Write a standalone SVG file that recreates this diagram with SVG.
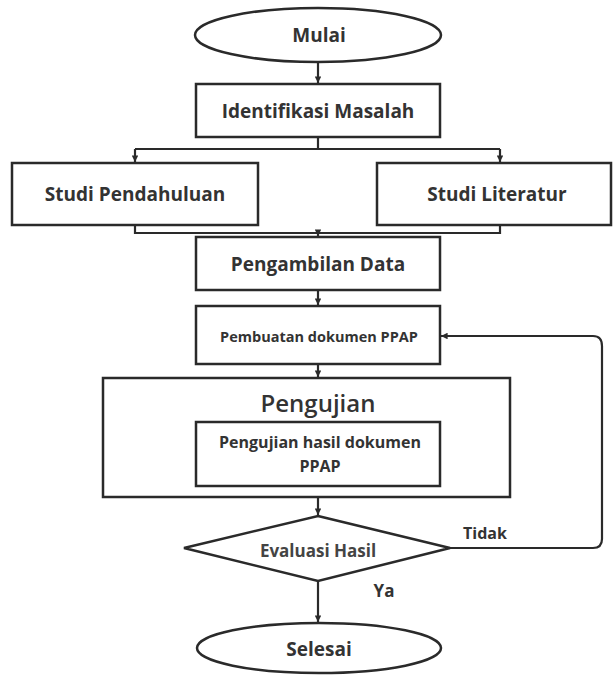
<svg xmlns="http://www.w3.org/2000/svg" width="613" height="675" viewBox="0 0 613 675">
<style>
.s{fill:#fff;stroke:#2a2a2a;stroke-width:2.5}
.t{font-family:"Open Sans","Noto Sans",sans-serif;font-weight:700;fill:#333;text-anchor:middle;dominant-baseline:central}
.c{fill:none;stroke:#2a2a2a;stroke-width:2.2}
</style>
<defs>
<marker id="a" viewBox="0 0 6 6" refX="6" refY="3" markerWidth="3" markerHeight="3" orient="auto"><path d="M0,0L6,3L0,6z" fill="#2a2a2a"/></marker>
</defs>
<rect width="613" height="675" fill="#fff"/>
<g id="connectors">
<path class="c" d="M318,62V83" marker-end="url(#a)"/>
<path class="c" d="M318,137V149M135,149H500"/>
<path class="c" d="M135,149V162" marker-end="url(#a)"/>
<path class="c" d="M500,149V162" marker-end="url(#a)"/>
<path class="c" d="M135,225V233H500V225"/>
<path class="c" d="M318,233V236" marker-end="url(#a)"/>
<path class="c" d="M318,290V305" marker-end="url(#a)"/>
<path class="c" d="M318,364V377" marker-end="url(#a)"/>
<path class="c" d="M318,497V515" marker-end="url(#a)"/>
<path class="c" d="M450,548H593Q602,548 602,539V346Q602,336 593,336H441" marker-end="url(#a)"/>
<path class="c" d="M318,581V622" marker-end="url(#a)"/>
</g>
<g id="mulai"><ellipse class="s" cx="318" cy="35" rx="123" ry="27"/><text class="t" x="319" y="35" font-size="19">Mulai</text></g>
<g id="identifikasi"><rect class="s" x="196" y="84" width="244" height="53"/><text class="t" x="318" y="111" font-size="19">Identifikasi Masalah</text></g>
<g id="studi-pendahuluan"><rect class="s" x="12" y="163" width="246" height="62"/><text class="t" x="135" y="194" font-size="19">Studi Pendahuluan</text></g>
<g id="studi-literatur"><rect class="s" x="377" y="163" width="234" height="62"/><text class="t" x="497" y="194" font-size="19">Studi Literatur</text></g>
<g id="pengambilan"><rect class="s" x="196" y="237" width="244" height="53"/><text class="t" x="318" y="264" font-size="19">Pengambilan Data</text></g>
<g id="pembuatan"><rect class="s" x="196" y="306" width="244" height="58"/><text class="t" x="319" y="336" font-size="14.5">Pembuatan dokumen PPAP</text></g>
<g id="pengujian"><rect class="s" x="103" y="378" width="407" height="119"/><text class="t" x="318" y="402" font-size="24" style="font-weight:600">Pengujian</text>
<rect class="s" x="196" y="422" width="244" height="64"/><text class="t" x="320" y="442" font-size="16">Pengujian hasil dokumen</text><text class="t" x="320" y="466" font-size="16">PPAP</text></g>
<g id="evaluasi"><polygon class="s" points="318,516 450,548 318,581 184,548"/><text class="t" x="318" y="550" font-size="17" style="fill:#444">Evaluasi Hasil</text></g>
<text class="t" x="485" y="533" font-size="16">Tidak</text>
<text class="t" x="384" y="590" font-size="17">Ya</text>
<g id="selesai"><ellipse class="s" cx="319" cy="648" rx="122" ry="25"/><text class="t" x="319" y="649" font-size="19">Selesai</text></g>
</svg>
